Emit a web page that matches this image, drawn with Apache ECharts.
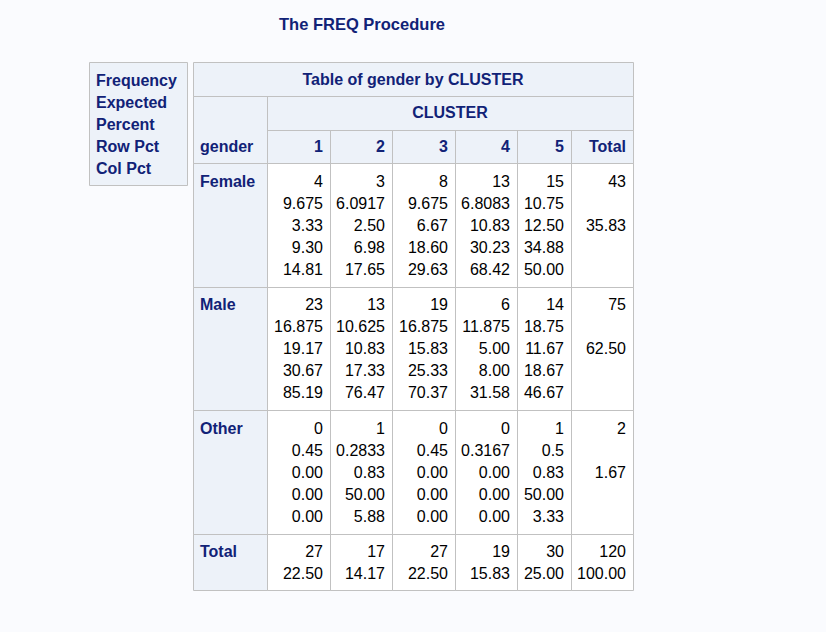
<!DOCTYPE html>
<html>
<head>
<meta charset="utf-8">
<script src="https://cdn.jsdelivr.net/npm/echarts@6/dist/echarts.min.js"></script>
<style>
html,body{margin:0;padding:0;background:#fafbfe;}
#chart{width:826px;height:632px;}
</style>
</head>
<body>
<div id="chart"></div>
<script>
// ---------- data ----------
const pageTitle = "The FREQ Procedure";
const tableTitle = "Table of gender by CLUSTER";
const colVarName = "CLUSTER";
const rowVarName = "gender";
const statLabels = ["Frequency", "Expected", "Percent", "Row Pct", "Col Pct"];
const clusters = ["1", "2", "3", "4", "5"];
const totalLabel = "Total";
const genders = ["Female", "Male", "Other"];
const frequency = [
  [4, 3, 8, 13, 15],
  [23, 13, 19, 6, 14],
  [0, 1, 0, 0, 1]
];
const expected = [
  [9.675, 6.0917, 9.675, 6.8083, 10.75],
  [16.875, 10.625, 16.875, 11.875, 18.75],
  [0.45, 0.2833, 0.45, 0.3167, 0.5]
];
const percent = [
  [3.33, 2.50, 6.67, 10.83, 12.50],
  [19.17, 10.83, 15.83, 5.00, 11.67],
  [0.00, 0.83, 0.00, 0.00, 0.83]
];
const rowPct = [
  [9.30, 6.98, 18.60, 30.23, 34.88],
  [30.67, 17.33, 25.33, 8.00, 18.67],
  [0.00, 50.00, 0.00, 0.00, 50.00]
];
const colPct = [
  [14.81, 17.65, 29.63, 68.42, 50.00],
  [85.19, 76.47, 70.37, 31.58, 46.67],
  [0.00, 5.88, 0.00, 0.00, 3.33]
];
const rowTotals = [43, 75, 2];
const rowTotalPct = [35.83, 62.50, 1.67];
const colTotals = [27, 17, 27, 19, 30];
const colTotalPct = [22.50, 14.17, 22.50, 15.83, 25.00];
const grandTotal = 120;
const grandTotalPct = 100.00;

// ---------- layout (units of the hidden value axes) ----------
const legendBox = [0, 98, 0, 123];
const colEdges = [104, 178, 241, 303, 366, 428, 482, 544];
const rowEdges = [0, 34, 67.5, 101, 224.5, 348, 471.5, 528];
const HEADER_BG = "#edf2f9", DATA_BG = "#ffffff", BORDER = "#c1c1c1";
const HEADER_FG = "#112277", DATA_FG = "#000000";
const FONT = '"Liberation Sans", Arial, sans-serif';

// ---------- build cells ----------
const cells = [];
function addCell(x0, x1, y0, y1, text, opt) {
  cells.push(Object.assign({ x0, x1, y0, y1, text, header: false, align: 'right', valign: 'top' }, opt || {}));
}
const f2 = v => v.toFixed(2);

addCell(legendBox[0], legendBox[1], legendBox[2], legendBox[3], statLabels.join("\n"), { header: true, align: 'left' });
addCell(colEdges[0], colEdges[7], rowEdges[0], rowEdges[1], tableTitle, { header: true, align: 'center', valign: 'middle' });
addCell(colEdges[0], colEdges[1], rowEdges[1], rowEdges[3], rowVarName, { header: true, align: 'left', valign: 'middle', textY0: rowEdges[2] });
addCell(colEdges[1], colEdges[7], rowEdges[1], rowEdges[2], colVarName, { header: true, align: 'center', valign: 'middle' });
clusters.concat([totalLabel]).forEach((c, j) => {
  addCell(colEdges[j + 1], colEdges[j + 2], rowEdges[2], rowEdges[3], c, { header: true, valign: 'middle' });
});
genders.forEach((g, i) => {
  const y0 = rowEdges[3 + i], y1 = rowEdges[4 + i];
  addCell(colEdges[0], colEdges[1], y0, y1, g, { header: true, align: 'left' });
  clusters.forEach((c, j) => {
    const lines = [String(frequency[i][j]), String(expected[i][j]), f2(percent[i][j]), f2(rowPct[i][j]), f2(colPct[i][j])];
    addCell(colEdges[j + 1], colEdges[j + 2], y0, y1, lines.join("\n"));
  });
  addCell(colEdges[6], colEdges[7], y0, y1, [String(rowTotals[i]), " ", f2(rowTotalPct[i])].join("\n"));
});
{
  const y0 = rowEdges[6], y1 = rowEdges[7];
  addCell(colEdges[0], colEdges[1], y0, y1, totalLabel, { header: true, align: 'left' });
  clusters.forEach((c, j) => {
    addCell(colEdges[j + 1], colEdges[j + 2], y0, y1, [String(colTotals[j]), f2(colTotalPct[j])].join("\n"));
  });
  addCell(colEdges[6], colEdges[7], y0, y1, [String(grandTotal), f2(grandTotalPct)].join("\n"));
}

const chart = echarts.init(document.getElementById('chart'), null, { renderer: 'svg' });
chart.setOption({
  backgroundColor: '#fafbfe',
  animation: false,
  graphic: [{
    type: 'text', x: 362, y: 24,
    style: { text: pageTitle, align: 'center', verticalAlign: 'middle', fill: HEADER_FG, font: 'bold 16.5px ' + FONT }
  }],
  grid: { left: 89, top: 62, width: 544, height: 528, containLabel: false },
  xAxis: { type: 'value', min: 0, max: 544, show: false },
  yAxis: { type: 'value', min: 0, max: 528, inverse: true, show: false },
  series: [{
    type: 'custom',
    clip: false,
    silent: true,
    encode: { x: [0, 2], y: [1, 3] },
    data: cells.map(c => [c.x0, c.y0, c.x1, c.y1, c.textY0 == null ? c.y0 : c.textY0]),
    renderItem: function (params, api) {
      const c = cells[params.dataIndex];
      const p0 = api.coord([api.value(0), api.value(1)]);
      const p1 = api.coord([api.value(2), api.value(3)]);
      const pt = api.coord([api.value(0), api.value(4)]);
      const x = Math.round(p0[0]) + 0.5, y = Math.round(p0[1]) + 0.5;
      const w = Math.round(p1[0]) - Math.round(p0[0]);
      const h = Math.round(p1[1]) - Math.round(p0[1]);
      let tx, ty;
      if (c.align === 'left') tx = p0[0] + 7;
      else if (c.align === 'right') tx = p1[0] - 7;
      else tx = (p0[0] + p1[0]) / 2;
      if (c.valign === 'top') ty = p0[1] + 7;
      else ty = (pt[1] + p1[1]) / 2;
      return {
        type: 'group',
        children: [
          { type: 'rect', z2: 0, shape: { x: x, y: y, width: w, height: h }, style: { fill: c.header ? HEADER_BG : DATA_BG } },
          { type: 'rect', z2: 1, shape: { x: x, y: y, width: w, height: h }, style: { fill: 'none', stroke: BORDER, lineWidth: 1 } },
          {
            type: 'text', z2: 2,
            style: {
              text: c.text, x: tx, y: ty, align: c.align, verticalAlign: c.valign,
              font: (c.header ? 'bold ' : '') + '16px ' + FONT, lineHeight: 22,
              fill: c.header ? HEADER_FG : DATA_FG
            }
          }
        ]
      };
    }
  }]
});
</script>
</body>
</html>
